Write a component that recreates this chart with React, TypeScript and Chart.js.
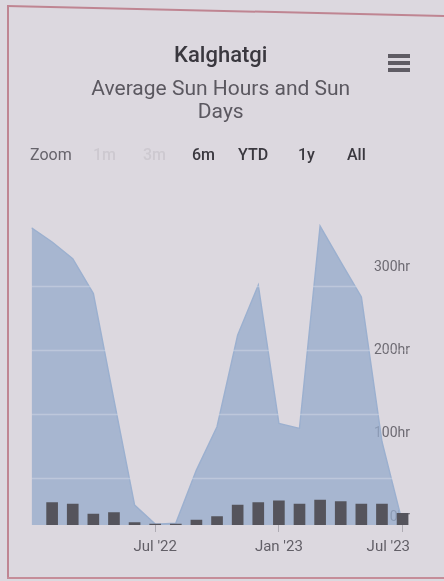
import React, { useEffect, useRef } from "react";
import { Chart, registerables } from "chart.js";

Chart.register(...registerables);

// ---- data (monthly, Jan '22 .. Jul '23) ----
const months = [
  "Jan '22", "Feb '22", "Mar '22", "Apr '22", "May '22", "Jun '22", "Jul '22",
  "Aug '22", "Sep '22", "Oct '22", "Nov '22", "Dec '22", "Jan '23", "Feb '23",
  "Mar '23", "Apr '23", "May '23", "Jun '23", "Jul '23",
];
const sunHours = [357, 340, 320, 278, 150, 24, 1, 2, 66, 118, 228, 288, 122, 116, 359, 316, 274, 100, 2];
const sunDays = [null, 27, 25, 13, 15, 3, 1, 1, 6, 10, 24, 27, 29, 25, 30, 28, 25, 25, 14];
const xTickIndex = [6, 12, 18];
const xTickLabels = ["Jul '22", "Jan '23", "Jul '23"];
const yTickValues = [0, 100, 200, 300];
const yTickLabels = ["0hr", "100hr", "200hr", "300hr"];
const gridValues = [56, 133, 210, 287];
const rangeButtons = ["1m", "3m", "6m", "YTD", "1y", "All"];
const rangeEnabled = [false, false, true, true, true, true];
const titleText = "Kalghatgi";
const subtitleLines = ["Average Sun Hours and Sun", "Days"];

const BG = "#dcd8df";
const FONT = "Roboto, 'Noto Sans', sans-serif";

export default function App() {
  const ref = useRef<HTMLCanvasElement | null>(null);

  useEffect(() => {
    if (!ref.current) return;

    const gridPlugin = {
      id: "areaGrid",
      afterDatasetDraw(chart: any, args: any) {
        if (args.index !== 1) return;
        const { ctx, chartArea } = chart;
        const y = chart.scales.y;
        ctx.save();
        ctx.globalCompositeOperation = "source-atop";
        ctx.strokeStyle = "rgba(255,255,255,0.28)";
        ctx.lineWidth = 1.5;
        gridValues.forEach((v) => {
          const py = Math.round(y.getPixelForValue(v)) + 0.5;
          ctx.beginPath();
          ctx.moveTo(chartArea.left, py);
          ctx.lineTo(chartArea.right, py);
          ctx.stroke();
        });
        ctx.restore();
      },
    };

    const xLabelPlugin = {
      id: "xLabels",
      afterDraw(chart: any) {
        const { ctx, chartArea } = chart;
        const x = chart.scales.x;
        ctx.save();
        ctx.font = `15px ${FONT}`;
        ctx.fillStyle = "#625f67";
        ctx.textBaseline = "middle";
        ctx.textAlign = "left";
        xTickIndex.forEach((v, i) => {
          const label = xTickLabels[i];
          const w = ctx.measureText(label).width;
          let px = x.getPixelForValue(v) - w / 2;
          if (px + w > chartArea.right) px = chartArea.right - w;
          if (px < chartArea.left) px = chartArea.left;
          ctx.fillText(label, px, 547);
        });
        ctx.restore();
      },
    };

    const chart = new Chart(ref.current, {
      data: {
        labels: months,
        datasets: [
          {
            type: "bar",
            label: "Sun Days",
            data: sunDays.map((v, i) => ({ x: i, y: v })),
            backgroundColor: "#55545c",
            barThickness: 11,
            order: 1,
          } as any,
          {
            type: "line",
            label: "Sun Hours",
            data: sunHours.map((v, i) => ({ x: i, y: v })),
            fill: "origin",
            backgroundColor: "rgba(149,171,203,0.75)",
            borderColor: "#9cb0cf",
            borderWidth: 1.5,
            pointRadius: 0,
            tension: 0,
            order: 2,
          } as any,
        ],
      },
      options: {
        animation: false,
        responsive: false,
        devicePixelRatio: 1,
        layout: { padding: { left: 31.5, right: 34, top: 0, bottom: 49 } },
        plugins: {
          legend: { display: false },
          tooltip: { enabled: false },
          title: {
            display: true,
            text: titleText,
            color: "#3a383f",
            font: { family: FONT, size: 22, weight: "500", lineHeight: 1.2 },
            padding: { top: 43, bottom: 0 },
          },
          subtitle: {
            display: true,
            text: subtitleLines,
            color: "#5b5860",
            font: { family: FONT, size: 21, weight: "normal", lineHeight: 1.1 },
            padding: { top: 9, bottom: 71.6 },
          },
        },
        scales: {
          x: {
            type: "linear",
            offset: false,
            min: 0,
            max: 18.36,
            afterBuildTicks: (s: any) => {
              s.ticks = xTickIndex.map((v) => ({ value: v }));
            },
            ticks: { display: false },
            grid: {
              display: true,
              offset: false,
              drawOnChartArea: false,
              drawTicks: true,
              tickLength: 7,
              color: "#aeabb3",
            },
            border: { display: false },
          },
          y: {
            type: "linear",
            position: "right",
            min: 0,
            max: 395,
            z: 1,
            afterBuildTicks: (s: any) => {
              s.ticks = yTickValues.map((v) => ({ value: v }));
            },
            ticks: {
              mirror: true,
              padding: 0,
              labelOffset: -8,
              color: "#6d6a72",
              font: { family: FONT, size: 14 },
              callback: (_v: any, i: number) => yTickLabels[i],
            },
            grid: { display: false, drawTicks: false },
            border: { display: false },
          },
        },
      },
      plugins: [gridPlugin, xLabelPlugin],
    });

    return () => chart.destroy();
  }, []);

  return (
    <div style={{ position: "fixed", inset: 0, background: BG, overflow: "hidden", fontFamily: FONT }}>
      {/* photo frame */}
      <div style={{ position: "absolute", left: 7, top: 5, width: 2, height: 574, background: "#bf8592" }} />
      <div
        style={{
          position: "absolute", left: 7, top: 5, width: 440, height: 2, background: "#bf8592",
          transform: "rotate(1.3deg)", transformOrigin: "0 0",
        }}
      />
      <div style={{ position: "absolute", left: 7, top: 577, width: 437, height: 2, background: "#c58d99" }} />

      <canvas ref={ref} width={444} height={581} style={{ position: "absolute", left: 0, top: 0, width: 444, height: 581 }} />

      {/* menu icon */}
      {[54, 61, 68].map((t) => (
        <div key={t} style={{ position: "absolute", left: 388, top: t, width: 22, height: 4, background: "#5f5c64" }} />
      ))}

      {/* range selector */}
      <span style={{ position: "absolute", left: 30, top: 146, fontSize: 16, lineHeight: "18px", color: "#66636b" }}>Zoom</span>
      {rangeButtons.map((b, i) => (
        <span
          key={b}
          style={{
            position: "absolute",
            left: [93, 143, 192, 238, 298, 347][i],
            top: 146,
            fontSize: 16,
            lineHeight: "18px",
            fontWeight: 500,
            color: rangeEnabled[i] ? "#3a383f" : "#cdc9d0",
          }}
        >
          {b}
        </span>
      ))}
    </div>
  );
}
